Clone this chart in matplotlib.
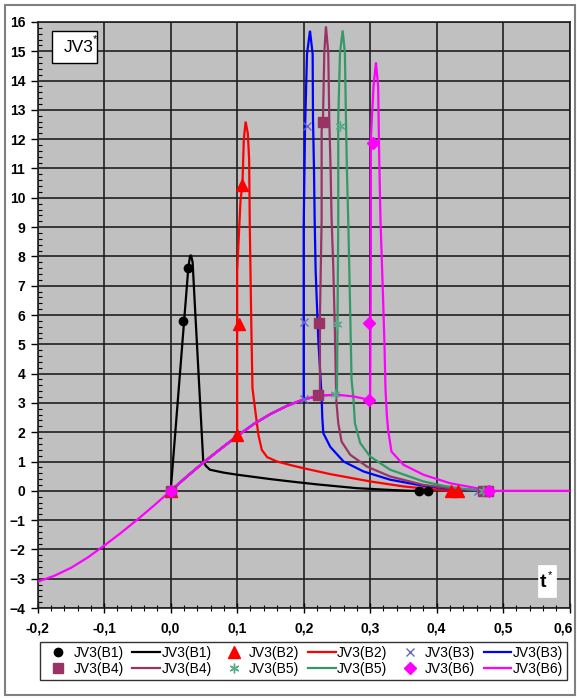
import matplotlib
matplotlib.use("Agg")
import matplotlib.pyplot as plt
from matplotlib.patches import Rectangle
from matplotlib.ticker import MultipleLocator
from matplotlib.transforms import ScaledTranslation

plt.rcParams['font.family'] = ['Liberation Sans', 'DejaVu Sans']

# ---- data ----
# common rising base curve (B6 line follows it from -0.2)
base_t = [-0.2, -0.175, -0.15, -0.125, -0.1, -0.075, -0.05, -0.025, 0.0, 0.025, 0.05,
          0.075, 0.1, 0.125, 0.15, 0.175, 0.2, 0.225, 0.25, 0.275, 0.3]
base_y = [-3.1, -2.9, -2.63, -2.28, -1.87, -1.44, -0.98, -0.5, 0.0, 0.5, 0.98,
          1.43, 1.87, 2.28, 2.62, 2.9, 3.12, 3.25, 3.28, 3.22, 3.1]

# peak + decay branches
b1_t = [0.0, 0.0265, 0.029, 0.0305, 0.033, 0.036, 0.049, 0.053, 0.059, 0.08, 0.1, 0.15,
        0.18, 0.22, 0.28, 0.33, 0.36, 0.39]
b1_y = [0.0, 7.6, 8.0, 8.05, 7.8, 6.5, 1.0, 0.85, 0.72, 0.62, 0.55, 0.40,
        0.32, 0.22, 0.09, 0.03, 0.0, 0.0]

b2_t = [0.1, 0.1, 0.105, 0.108, 0.11, 0.1127, 0.116, 0.118, 0.119, 0.121, 0.123, 0.128,
        0.132, 0.137, 0.145, 0.16, 0.18, 0.2, 0.24, 0.3, 0.35, 0.4, 0.43]
b2_y = [1.87, 7.5, 9.9, 10.5, 12.0, 12.6, 12.2, 11.3, 9.0, 6.0, 3.5, 2.6,
        1.9, 1.4, 1.15, 1.0, 0.88, 0.77, 0.57, 0.32, 0.15, 0.04, 0.0]

b3_t = [0.2, 0.2, 0.2, 0.202, 0.205, 0.2095, 0.2135, 0.214, 0.2155, 0.2165, 0.218, 0.222,
        0.227, 0.228, 0.2295, 0.24, 0.26, 0.29, 0.33, 0.38, 0.42, 0.47]
b3_y = [3.12, 5.8, 9.0, 12.3, 14.9, 15.7, 14.9, 12.7, 11.0, 9.3, 7.5, 5.15,
        3.2, 2.5, 1.97, 1.5, 1.0, 0.66, 0.38, 0.17, 0.07, 0.0]

b4_t = [0.2245, 0.2245, 0.227, 0.227, 0.229, 0.231, 0.2335, 0.237, 0.2385, 0.2405, 0.242,
        0.2445, 0.247, 0.249, 0.252, 0.257, 0.27, 0.295, 0.33, 0.38, 0.43, 0.475]
b4_y = [3.25, 6.0, 9.25, 12.3, 12.66, 14.94, 15.85, 14.94, 12.66, 10.96, 9.25,
        7.66, 5.38, 3.1, 2.31, 1.68, 1.23, 0.83, 0.49, 0.2, 0.06, 0.0]

b5_t = [0.25, 0.251, 0.252, 0.252, 0.2546, 0.2586, 0.262, 0.2636, 0.265, 0.267, 0.2696,
        0.272, 0.275, 0.277, 0.285, 0.3, 0.33, 0.38, 0.41, 0.44, 0.475]
b5_y = [3.28, 6.0, 9.25, 12.66, 14.94, 15.71, 14.94, 12.66, 10.96, 9.25, 6.5,
        3.8, 3.1, 2.31, 1.63, 1.17, 0.72, 0.32, 0.17, 0.07, 0.0]

b6_t = [0.3, 0.301, 0.301, 0.305, 0.3087, 0.312, 0.3135, 0.3155, 0.3195, 0.3215, 0.323,
        0.325, 0.327, 0.332, 0.35, 0.38, 0.42, 0.46, 0.48, 0.6]
b6_y = [3.1, 8.0, 11.98, 13.8, 14.62, 13.8, 11.5, 9.25, 6.5, 5.0, 3.5,
        2.6, 2.08, 1.34, 0.89, 0.55, 0.26, 0.09, 0.0, 0.0]

# marker series
m1_t = [0.0, 0.019, 0.0265, 0.373, 0.387]
m1_y = [0.0, 5.8, 7.6, 0.0, 0.0]
m2_t = [0.0, 0.1, 0.102, 0.1077, 0.421, 0.432]
m2_y = [0.0, 1.9, 5.7, 10.45, 0.0, 0.0]
m3_t = [0.0, 0.2, 0.2, 0.2055, 0.462, 0.47]
m3_y = [0.0, 3.13, 5.75, 12.45, 0.0, 0.0]
m4_t = [0.0, 0.222, 0.2235, 0.2285, 0.47, 0.477]
m4_y = [0.0, 3.28, 5.74, 12.57, 0.0, 0.0]
m5_t = [0.0, 0.247, 0.2496, 0.2546, 0.47, 0.477]
m5_y = [0.0, 3.31, 5.7, 12.46, 0.0, 0.0]
m6_t = [0.0, 0.2987, 0.2987, 0.3047, 0.478]
m6_y = [0.0, 3.1, 5.72, 11.87, 0.0]

series_names = ["JV3(B1)", "JV3(B2)", "JV3(B3)", "JV3(B4)", "JV3(B5)", "JV3(B6)"]
x_ticks = [-0.2, -0.1, 0.0, 0.1, 0.2, 0.3, 0.4, 0.5, 0.6]
x_tick_labels = ["-0,2", "-0,1", "0,0", "0,1", "0,2", "0,3", "0,4", "0,5", "0,6"]
y_ticks = list(range(-4, 17))

# ---- styles ----
line_colors = ["#000000", "#FF0000", "#0000FF", "#993366", "#339966", "#FF00FF"]
mk_colors = ["#000000", "#FF0000", "#6666CC", "#993366", "#55AA88", "#FF00FF"]
mk_styles = ["o", "^", "x", "s", (6, 2, 0), "D"]
mk_sizes = [6, 8, 6, 7, 7, 6]

fig = plt.figure(figsize=(5.77, 6.98), dpi=100)
ax = fig.add_axes([0.0653, 0.1289, 0.922, 0.8396])
ax.set_facecolor("#C0C0C0")

branches = [(b1_t, b1_y), (b2_t, b2_y), (b3_t, b3_y), (b4_t, b4_y), (b5_t, b5_y), (b6_t, b6_y)]
line_handles = []
for i, (bt, by) in enumerate(branches):
    lo = -1.0 if i == 5 else 0.0
    pre_t = [t for t in base_t if lo <= t < bt[0]]
    pre_y = [y for t, y in zip(base_t, base_y) if lo <= t < bt[0]]
    h, = ax.plot(pre_t + bt, pre_y + by, color=line_colors[i], lw=1.6, zorder=3 + i * 0.1,
                 solid_joinstyle='miter')
    line_handles.append(h)

markers = [(m1_t, m1_y), (m2_t, m2_y), (m3_t, m3_y), (m4_t, m4_y), (m5_t, m5_y), (m6_t, m6_y)]
mk_handles = []
for i, (mt, my) in enumerate(markers):
    h, = ax.plot(mt, my, linestyle='none', marker=mk_styles[i], ms=mk_sizes[i],
                 color=mk_colors[i], mec=mk_colors[i], mew=1.0, zorder=5)
    mk_handles.append(h)

ax.set_xlim(-0.2, 0.6)
ax.set_ylim(-4, 16)
ax.set_xticks(x_ticks)
ax.set_xticklabels(x_tick_labels)
ax.set_yticks(y_ticks)
ax.xaxis.set_minor_locator(MultipleLocator(0.02))
ax.yaxis.set_minor_locator(MultipleLocator(0.2))
ax.grid(True, which='major', color='#202020', lw=1.2)
ax.set_axisbelow(True)
for s in ax.spines.values():
    s.set_color('#202020')
    s.set_linewidth(1.2)
ax.tick_params(axis='x', which='major', direction='inout', length=7, width=1.0, pad=6,
               labelsize=10)
ax.tick_params(axis='x', which='minor', direction='inout', length=4, width=0.8)
ax.tick_params(axis='y', which='major', direction='out', length=5, width=1.0, pad=4,
               labelsize=10)
ax.tick_params(axis='y', which='minor', direction='in', length=3, width=0.8)
xlabs = ax.get_xticklabels()
for lab in xlabs + ax.get_yticklabels():
    lab.set_fontweight('bold')
# keep last x label inside the figure edge
xlabs[-1].set_transform(xlabs[-1].get_transform() +
                        ScaledTranslation(-6 / 100, 0, fig.dpi_scale_trans))

# title box JV3*
ax.text(-0.161, 15.12, "JV3", fontsize=12.5, ha='left', va='center', zorder=7)
ax.text(-0.1175, 15.42, "*", fontsize=8, ha='left', va='center', zorder=7)
ax.add_patch(Rectangle((-0.1778, 14.6), 0.0677, 1.09, facecolor='white', edgecolor='black',
                       lw=1.0, zorder=6))

# t* label
ax.add_patch(Rectangle((0.5525, -3.62), 0.027, 1.09, facecolor='white', edgecolor='white',
                       lw=0.5, zorder=6))
ax.text(0.5555, -3.12, "t", fontsize=14, fontweight='bold', ha='left', va='center', zorder=7)
ax.text(0.5675, -2.88, "*", fontsize=8, ha='left', va='center', zorder=7)

# legend
handles = []
labels = []
for a, b in [(0, 3), (1, 4), (2, 5)]:
    handles += [mk_handles[a], mk_handles[b], line_handles[a], line_handles[b]]
    labels += [series_names[a], series_names[b], series_names[a], series_names[b]]
leg = fig.legend(handles, labels, ncol=6, loc='center', bbox_to_anchor=(0.5265, 0.053),
                 fontsize=10, frameon=True, fancybox=False, edgecolor='black',
                 handlelength=2.0, handletextpad=0.1, columnspacing=0.6,
                 borderpad=0.3, labelspacing=0.15)
leg.get_frame().set_linewidth(1.0)

# outer frame
fig.add_artist(Rectangle((5 / 577, 3 / 698), 570 / 577, 690 / 698, transform=fig.transFigure,
                         facecolor='none', edgecolor='#808080', lw=1.5))

fig.savefig("out.png", dpi=100)
